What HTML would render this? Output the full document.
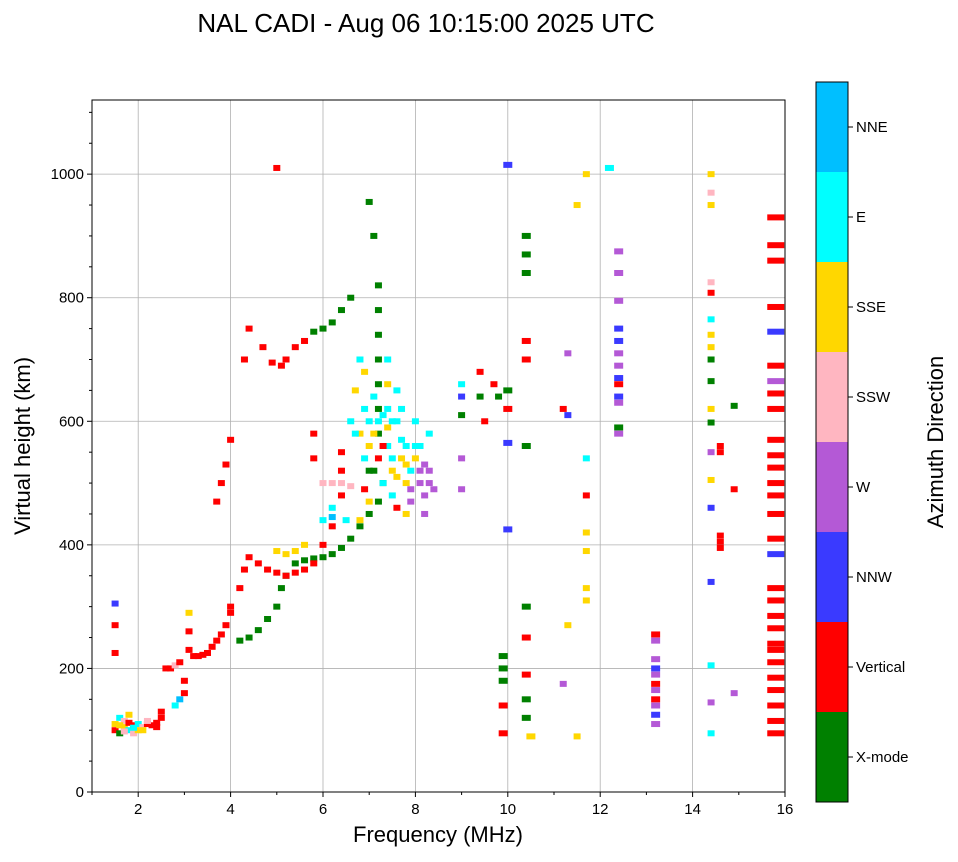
<!DOCTYPE html>
<html><head><meta charset="utf-8"><style>
body{margin:0;background:#fff;}
svg text{font-family:"Liberation Sans",sans-serif;}
</style></head><body>
<svg id="chart" width="958" height="857" xmlns="http://www.w3.org/2000/svg">
<text x="426" y="32" font-size="26" text-anchor="middle">NAL CADI - Aug 06 10:15:00 2025 UTC</text>
<g id="grid"></g>
<g id="marks"></g>
<rect x="92" y="100" width="693" height="692" fill="none" stroke="#000" stroke-width="1"/>
<g id="axes"></g>
<text x="438" y="842" font-size="22" text-anchor="middle">Frequency (MHz)</text>
<text transform="translate(30,446) rotate(-90)" font-size="22" text-anchor="middle">Virtual height (km)</text>
<g id="cbar"></g>
<text transform="translate(943,442) rotate(-90)" font-size="22" text-anchor="middle">Azimuth Direction</text>
</svg>
<script>
const xTicks=[2,4,6,8,10,12,14,16];
const yTicks=[0,200,400,600,800,1000];
const dirNames=["X-mode","Vertical","NNW","W","SSW","SSE","E","NNE"];
const dirColors=["#008000","#ff0000","#3a3aff","#b459d6","#ffb6c1","#ffd700","#00ffff","#00bfff"];
const echoFreq=[1.5,1.5,1.6,1.6,1.7,1.7,1.8,1.8,1.9,1.9,2.0,2.0,2.1,2.2,2.3,2.4,2.5,2.5,1.5,1.5,1.5,
2.6,2.7,2.8,2.9,2.8,2.9,3.0,3.0,3.1,3.1,3.1,3.2,3.3,3.4,3.5,3.6,3.7,3.8,3.9,4.0,4.0,
4.2,4.4,4.6,4.8,5.0,5.1,5.2,5.4,5.6,5.8,6.0,6.2,6.4,6.6,6.8,7.0,7.2,7.3,
4.2,4.3,4.4,4.6,4.8,5.0,5.2,5.4,5.6,5.8,6.0,6.2,6.4,6.4,6.4,5.8,5.8,
5.0,5.2,5.4,5.6,6.0,6.2,6.2,6.0,6.2,6.4,6.6,
3.7,3.8,3.9,4.0,4.3,4.4,4.7,4.9,5.1,5.2,5.4,5.6,5.8,6.0,6.2,6.4,6.6,5.0,
7.2,7.2,7.2,7.2,7.2,7.2,7.2,7.1,7.0,
6.6,6.7,6.8,6.9,7.0,7.0,7.1,7.2,7.3,7.4,7.4,7.5,7.5,7.6,7.7,7.8,7.8,7.9,8.0,8.0,8.1,8.2,8.3,8.4,8.2,7.9,8.1,8.3,6.8,7.0,7.6,7.8,6.5,6.9,7.1,7.2,7.6,7.4,
9.0,9.0,9.0,9.0,9.0,9.4,9.4,9.5,9.7,9.8,10.0,10.0,10.0,10.0,10.0,
9.9,9.9,9.9,9.9,9.9,
10.4,10.4,10.4,10.4,10.4,10.4,10.4,10.4,10.4,10.4,10.4,10.5,
11.3,11.3,11.2,11.5,11.7,11.7,11.7,11.7,11.7,11.7,11.7,11.2,11.3,11.5,
12.4,12.4,12.4,12.4,12.4,12.4,12.4,12.4,12.4,12.4,12.4,12.4,12.4,12.2,
13.2,13.2,13.2,13.2,13.2,13.2,13.2,13.2,13.2,13.2,13.2,
14.4,14.4,14.4,14.4,14.4,14.4,14.4,14.4,14.4,14.4,14.4,14.4,14.4,14.4,14.4,14.4,14.4,14.4,14.4,14.6,14.6,14.6,14.6,14.6,14.9,14.9,14.9,
15.8,15.8,15.8,15.8,15.8,15.8,15.8,15.8,15.8,15.8,15.8,15.8,15.8,15.8,15.8,15.8,15.8,15.8,15.8,15.8,15.8,15.8,15.8,15.8,15.8,15.8,15.8,15.8,15.8,
1.6,1.7,1.8,1.9,2.1,2.2,2.4,6.8,6.9,7.0,7.1,7.3,7.4,7.5,7.6,7.7,7.8,7.9,8.0,8.1,8.2,8.3,7.3,7.5,7.7,6.7,6.9,7.4];
const echoHeight=[100,110,95,120,105,115,100,125,108,95,110,100,105,110,108,112,130,120,270,225,305,
200,200,205,210,140,150,180,160,230,260,290,220,220,222,225,235,245,255,270,290,300,
245,250,262,280,300,330,350,370,375,378,380,385,395,410,430,450,470,500,
330,360,380,370,360,355,350,355,360,370,400,430,480,550,520,540,580,
390,385,390,400,440,460,445,500,500,500,495,
470,500,530,570,700,750,720,695,690,700,720,730,745,750,760,780,800,1010,
820,780,740,700,660,620,580,900,955,
600,650,700,620,560,600,640,540,500,560,700,520,480,600,540,500,560,520,540,600,500,480,500,490,450,470,560,580,440,470,460,450,440,490,520,600,650,660,
640,610,660,540,490,640,680,600,660,640,650,620,565,425,1015,
220,200,180,140,95,
900,870,840,730,700,560,300,250,190,150,120,90,
710,610,620,950,1000,540,480,420,390,330,310,175,270,90,
875,840,795,750,730,710,690,670,660,640,630,590,580,1010,
255,245,215,200,190,175,165,150,140,125,110,
1000,970,950,825,808,765,740,720,700,665,620,598,550,505,460,340,205,145,95,560,550,415,405,395,625,490,160,
930,885,860,785,745,690,665,645,620,570,545,525,500,480,450,410,385,330,310,285,265,240,230,210,185,165,140,115,95,
108,98,112,104,100,115,105,580,540,520,580,610,590,540,510,570,530,490,560,520,530,520,560,600,620,580,680,620];
const echoDir=[1,5,0,6,5,4,6,5,1,4,6,5,4,1,1,1,1,1,1,1,2,
1,1,4,1,6,7,1,1,1,1,5,1,1,1,1,1,1,1,1,1,1,
0,0,0,0,0,0,0,0,0,0,0,0,0,0,0,0,0,0,
1,1,1,1,1,1,1,1,1,1,1,1,1,1,1,1,1,
5,5,5,5,6,6,7,4,4,4,4,
1,1,1,1,1,1,1,1,1,1,1,1,0,0,0,0,0,1,
0,0,0,0,0,0,0,0,0,
6,5,6,6,5,6,6,1,6,6,6,5,6,6,5,5,6,6,5,6,3,3,3,3,3,3,6,6,5,5,1,5,6,1,0,6,6,5,
2,0,6,3,3,0,1,1,1,0,0,1,2,2,2,
0,0,0,1,1,
0,0,0,1,1,0,0,1,1,0,0,5,
3,2,1,5,5,6,1,5,5,5,5,3,5,5,
3,3,3,2,2,3,3,2,1,2,3,0,3,6,
1,3,3,2,3,1,3,1,3,2,3,
5,4,5,4,1,6,5,5,0,0,5,0,3,5,2,2,6,3,6,1,1,1,1,1,0,1,3,
1,1,1,1,2,1,3,1,1,1,1,1,1,1,1,1,2,1,1,1,1,1,1,1,1,1,1,1,1,
5,4,1,6,5,4,1,5,6,0,5,6,5,6,5,6,5,3,6,3,3,3,1,6,6,6,5,6];
const NS="http://www.w3.org/2000/svg";
const X0=92,X1=785,Y0=792,Y1=100;
function xs(f){return X0+(f-1)/15*(X1-X0);}
function ys(h){return Y0-h/1120*(Y0-Y1);}
function mk(tag,attrs,parent){const e=document.createElementNS(NS,tag);for(const k in attrs)e.setAttribute(k,attrs[k]);parent.appendChild(e);return e;}
const grid=document.getElementById('grid'),axes=document.getElementById('axes'),marks=document.getElementById('marks'),cbar=document.getElementById('cbar');
xTicks.forEach(t=>{const x=xs(t);
 if(t<16){const g=mk('line',{x1:x,x2:x,y1:Y1,y2:Y0,stroke:'#b0b0b0','stroke-width':0.8},grid);}
 const tk=mk('line',{x1:x,x2:x,y1:Y0,y2:Y0+5,stroke:'#000'},axes);
 const tx=mk('text',{x:x,y:Y0+22,'font-size':15,'text-anchor':'middle'},axes);tx.textContent=t;});
[1,3,5,7,9,11,13,15].forEach(t=>{const tk=mk('line',{x1:xs(t),x2:xs(t),y1:Y0,y2:Y0+3,stroke:'#000'},axes);});
yTicks.forEach(t=>{const y=ys(t);
 if(t>0){const g=mk('line',{x1:X0,x2:X1,y1:y,y2:y,stroke:'#b0b0b0','stroke-width':0.8},grid);}
 const tk=mk('line',{x1:X0-5,x2:X0,y1:y,y2:y,stroke:'#000'},axes);
 const tx=mk('text',{x:X0-8,y:y+5,'font-size':15,'text-anchor':'end'},axes);tx.textContent=t;});
for(let h=50;h<1120;h+=50){if(h%200===0)continue;const tk=mk('line',{x1:X0-3,x2:X0,y1:ys(h),y2:ys(h),stroke:'#000'},axes);}
for(let i=0;i<echoFreq.length;i++){const f=echoFreq[i];const w=f>15.5?17:(f>9.8&&f<13.5&&Math.abs(f-11.5)>0.4?9:7);
 const r=mk('rect',{x:xs(f)-w/2,y:ys(echoHeight[i])-3,width:w,height:6,fill:dirColors[echoDir[i]]},marks);
 
 }
const CX=816,CW=32,CT=82,CB=802,seg=(CB-CT)/dirNames.length;
dirNames.forEach((n,i)=>{const y=CB-(i+1)*seg;
 const r=mk('rect',{x:CX,y:y,width:CW,height:seg,fill:dirColors[i]},cbar);
 const tk=mk('line',{x1:CX+CW,x2:CX+CW+5,y1:y+seg/2,y2:y+seg/2,stroke:'#000'},cbar);
 const tx=mk('text',{x:CX+CW+8,y:y+seg/2+5,'font-size':15},cbar);tx.textContent=n;});
const fr=mk('rect',{x:CX,y:CT,width:CW,height:CB-CT,fill:'none',stroke:'#000'},cbar);
</script>
</body></html>
